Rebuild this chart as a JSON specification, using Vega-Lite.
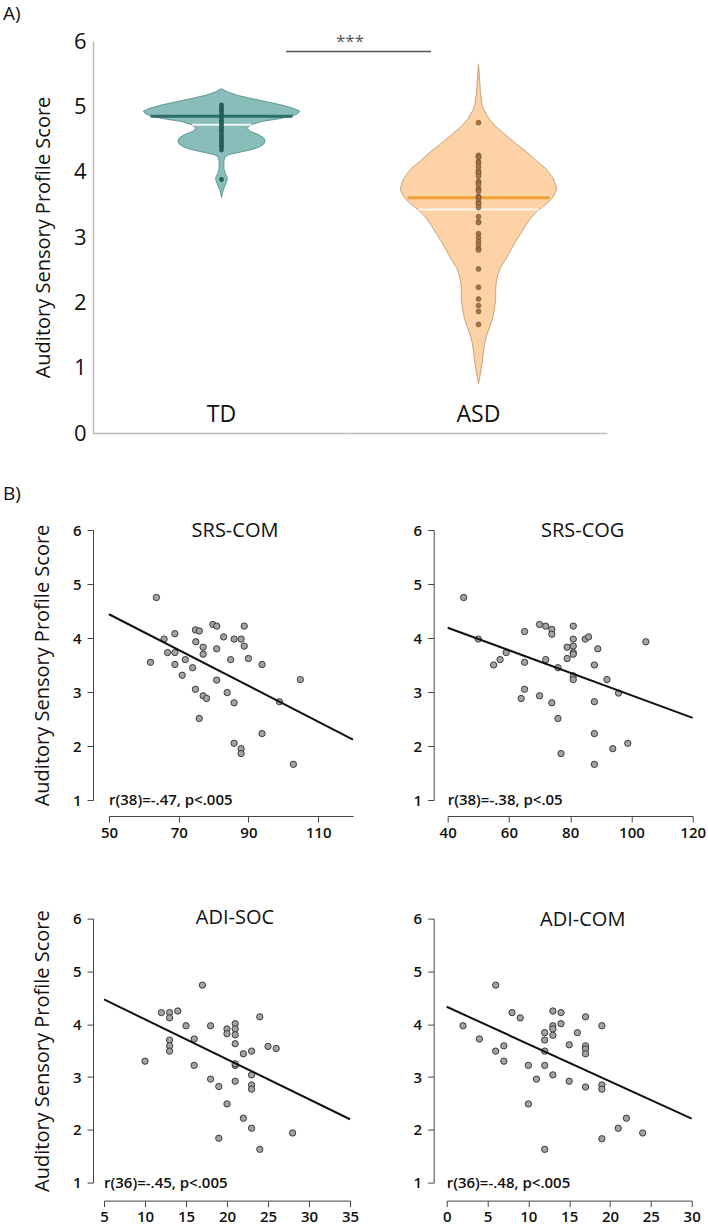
{
  "$schema": "https://vega.github.io/schema/vega-lite/v6.json",
  "background": "white",
  "padding": {"left": 3, "top": 5, "right": 0, "bottom": 0},
  "config": {
    "font": "Open Sans",
    "view": {"stroke": null},
    "axis": {"grid": false, "labelColor": "#111", "titleColor": "#111", "labelOverlap": false},
    "title": {"color": "#111", "fontWeight": "normal", "font": "Open Sans"}
  },
  "spacing": 41,
  "vconcat": [
    {
      "title": {"text": "A)", "anchor": "start", "frame": "group", "dx": -90, "offset": 6, "fontSize": 19},
      "bounds": "flush",
      "spacing": 0,
      "hconcat": [
        {
          "width": 257,
          "height": 392,
          "layer": [
            {
              "data": {"values": [
                {"score": 5.27, "density": 0}, {"score": 5.22, "density": 0.08}, {"score": 5.17, "density": 0.2},
                {"score": 5.12, "density": 0.38}, {"score": 5.07, "density": 0.58}, {"score": 5.02, "density": 0.77},
                {"score": 4.97, "density": 0.92}, {"score": 4.93, "density": 1.0}, {"score": 4.89, "density": 0.98},
                {"score": 4.85, "density": 0.9}, {"score": 4.81, "density": 0.74}, {"score": 4.77, "density": 0.52},
                {"score": 4.72, "density": 0.38}, {"score": 4.67, "density": 0.33}, {"score": 4.62, "density": 0.36},
                {"score": 4.57, "density": 0.47}, {"score": 4.52, "density": 0.54}, {"score": 4.47, "density": 0.56},
                {"score": 4.42, "density": 0.54}, {"score": 4.37, "density": 0.47}, {"score": 4.33, "density": 0.36},
                {"score": 4.29, "density": 0.2}, {"score": 4.26, "density": 0.09}, {"score": 4.22, "density": 0.04},
                {"score": 4.15, "density": 0.03}, {"score": 4.05, "density": 0.03}, {"score": 3.98, "density": 0.045},
                {"score": 3.92, "density": 0.07}, {"score": 3.88, "density": 0.075}, {"score": 3.83, "density": 0.06},
                {"score": 3.76, "density": 0.035}, {"score": 3.68, "density": 0.012}, {"score": 3.6, "density": 0}
              ]},
              "mark": {"type": "area", "orient": "horizontal", "fill": "#88bdb9", "stroke": "#5f9995", "strokeWidth": 1},
              "encoding": {
                "y": {"field": "score", "type": "quantitative", "scale": {"domain": [0, 6], "nice": false, "zero": false},
                  "axis": {"values": [0, 1, 2, 3, 4, 5, 6], "format": "d", "ticks": false, "tickSize": 0, "labelFontSize": 22, "labelPadding": 7,
                    "domainColor": "#bdbdbd", "domainWidth": 1.5, "title": "Auditory Sensory Profile Score",
                    "titleFontSize": 20, "titleFontWeight": "normal", "titlePadding": 20}},
                "x": {"field": "density", "type": "quantitative", "stack": "center",
                  "scale": {"domain": [-0.3237, 1.3237], "nice": false, "zero": false},
                  "axis": {"ticks": false, "labels": false, "title": null, "domainColor": "#bdbdbd", "domainWidth": 1.5}}
              }
            },
            {
              "data": {"values": [{"stat": "median", "score": 4.85, "lo": 0.045, "hi": 0.955}]},
              "mark": {"type": "rule", "color": "#2b6d69", "strokeWidth": 3},
              "encoding": {"x": {"field": "lo", "type": "quantitative"}, "x2": {"field": "hi"}, "y": {"field": "score", "type": "quantitative"}}
            },
            {
              "data": {"values": [{"stat": "mean", "score": 4.72, "lo": 0.31, "hi": 0.69}]},
              "mark": {"type": "rule", "color": "#ffffff", "strokeWidth": 2, "opacity": 0.85},
              "encoding": {"x": {"field": "lo", "type": "quantitative"}, "x2": {"field": "hi"}, "y": {"field": "score", "type": "quantitative"}}
            },
            {
              "data": {"values": [
                {"score": 5.02}, {"score": 4.98}, {"score": 4.95}, {"score": 4.92}, {"score": 4.88}, {"score": 4.85},
                {"score": 4.82}, {"score": 4.78}, {"score": 4.75}, {"score": 4.72}, {"score": 4.68}, {"score": 4.65},
                {"score": 4.62}, {"score": 4.57}, {"score": 4.53}, {"score": 4.5}, {"score": 4.47}, {"score": 4.43},
                {"score": 4.4}, {"score": 4.37}, {"score": 4.33}, {"score": 3.88}
              ]},
              "mark": {"type": "circle", "size": 24, "color": "#235f5b", "opacity": 1},
              "encoding": {"x": {"datum": 0.5}, "y": {"field": "score", "type": "quantitative"}}
            },
            {
              "data": {"values": [{"group": "TD", "pos": 0.27}]},
              "mark": {"type": "text", "fontSize": 23, "baseline": "middle", "align": "center", "color": "#111"},
              "encoding": {"x": {"datum": 0.5}, "y": {"field": "pos", "type": "quantitative"}, "text": {"field": "group"}}
            },
            {
              "data": {"values": [{"comparison": "TD vs ASD", "score": 5.84, "lo": 0.914, "hi": 1.843}]},
              "mark": {"type": "rule", "color": "#555555", "strokeWidth": 1.5},
              "encoding": {"x": {"field": "lo", "type": "quantitative"}, "x2": {"field": "hi"}, "y": {"field": "score", "type": "quantitative"}}
            },
            {
              "data": {"values": [{"sig": "***", "pos": 5.98}]},
              "mark": {"type": "text", "fontSize": 17, "baseline": "middle", "align": "center", "color": "#555555"},
              "encoding": {"x": {"datum": 1.3237}, "y": {"field": "pos", "type": "quantitative"}, "text": {"field": "sig"}}
            }
          ]
        },
        {
          "width": 257,
          "height": 392,
          "layer": [
            {
              "data": {"values": [
                {"score": 5.65, "density": 0}, {"score": 5.4, "density": 0.015}, {"score": 5.2, "density": 0.025},
                {"score": 5.0, "density": 0.05}, {"score": 4.93, "density": 0.077}, {"score": 4.8, "density": 0.14},
                {"score": 4.67, "density": 0.24}, {"score": 4.55, "density": 0.36}, {"score": 4.42, "density": 0.49},
                {"score": 4.3, "density": 0.62}, {"score": 4.17, "density": 0.74}, {"score": 4.05, "density": 0.86},
                {"score": 3.91, "density": 0.95}, {"score": 3.8, "density": 0.99}, {"score": 3.72, "density": 1.0},
                {"score": 3.62, "density": 0.96}, {"score": 3.55, "density": 0.91}, {"score": 3.45, "density": 0.81},
                {"score": 3.37, "density": 0.73}, {"score": 3.29, "density": 0.67}, {"score": 3.17, "density": 0.6},
                {"score": 3.05, "density": 0.54}, {"score": 2.92, "density": 0.47}, {"score": 2.79, "density": 0.41},
                {"score": 2.66, "density": 0.35}, {"score": 2.53, "density": 0.28}, {"score": 2.43, "density": 0.25},
                {"score": 2.33, "density": 0.23}, {"score": 2.2, "density": 0.22}, {"score": 2.05, "density": 0.22},
                {"score": 1.87, "density": 0.2}, {"score": 1.75, "density": 0.18}, {"score": 1.61, "density": 0.14},
                {"score": 1.48, "density": 0.1}, {"score": 1.36, "density": 0.077}, {"score": 1.2, "density": 0.058},
                {"score": 1.1, "density": 0.05}, {"score": 0.95, "density": 0.03}, {"score": 0.85, "density": 0.015},
                {"score": 0.75, "density": 0}
              ]},
              "mark": {"type": "area", "orient": "horizontal", "fill": "#fcd2a6", "stroke": "#c9a07a", "strokeWidth": 1},
              "encoding": {
                "y": {"field": "score", "type": "quantitative", "scale": {"domain": [0, 6], "nice": false, "zero": false}, "axis": null},
                "x": {"field": "density", "type": "quantitative", "stack": "center",
                  "scale": {"domain": [-0.3237, 1.3237], "nice": false, "zero": false},
                  "axis": {"ticks": false, "labels": false, "title": null, "domainColor": "#bdbdbd", "domainWidth": 1.5}}
              }
            },
            {
              "data": {"values": [{"stat": "median", "score": 3.6, "lo": 0.045, "hi": 0.955}]},
              "mark": {"type": "rule", "color": "#f0a035", "strokeWidth": 3},
              "encoding": {"x": {"field": "lo", "type": "quantitative"}, "x2": {"field": "hi"}, "y": {"field": "score", "type": "quantitative"}}
            },
            {
              "data": {"values": [{"stat": "mean", "score": 3.42, "lo": 0.115, "hi": 0.885}]},
              "mark": {"type": "rule", "color": "#ffffff", "strokeWidth": 2, "opacity": 0.85},
              "encoding": {"x": {"field": "lo", "type": "quantitative"}, "x2": {"field": "hi"}, "y": {"field": "score", "type": "quantitative"}}
            },
            {
              "data": {"values": [
                {"score": 4.75}, {"score": 4.25}, {"score": 4.22}, {"score": 4.22}, {"score": 4.15}, {"score": 4.13},
                {"score": 4.08}, {"score": 4.02}, {"score": 3.98}, {"score": 3.98}, {"score": 3.98}, {"score": 3.93},
                {"score": 3.85}, {"score": 3.83}, {"score": 3.8}, {"score": 3.73}, {"score": 3.73}, {"score": 3.7},
                {"score": 3.62}, {"score": 3.6}, {"score": 3.6}, {"score": 3.55}, {"score": 3.51}, {"score": 3.51},
                {"score": 3.45}, {"score": 3.31}, {"score": 3.23}, {"score": 3.22}, {"score": 3.05}, {"score": 2.99},
                {"score": 2.93}, {"score": 2.88}, {"score": 2.82}, {"score": 2.8}, {"score": 2.51}, {"score": 2.23},
                {"score": 2.05}, {"score": 1.95}, {"score": 1.86}, {"score": 1.66}
              ]},
              "mark": {"type": "circle", "size": 24, "fill": "#a8743f", "stroke": "#6b4a2a", "strokeWidth": 0.6, "opacity": 1},
              "encoding": {"x": {"datum": 0.5}, "y": {"field": "score", "type": "quantitative"}}
            },
            {
              "data": {"values": [{"group": "ASD", "pos": 0.27}]},
              "mark": {"type": "text", "fontSize": 23, "baseline": "middle", "align": "center", "color": "#111"},
              "encoding": {"x": {"datum": 0.5}, "y": {"field": "pos", "type": "quantitative"}, "text": {"field": "group"}}
            }
          ]
        }
      ]
    },
    {
      "title": {"text": "B)", "anchor": "start", "frame": "group", "dx": -90, "offset": 17, "fontSize": 19},
      "spacing": 67.6,
      "vconcat": [
        {
          "bounds": "flush",
          "spacing": 80.7,
          "hconcat": [
            {
              "width": 260, "height": 270,
              "title": {"text": "SRS-COM", "fontSize": 20, "baseline": "middle", "offset": -28, "dx": 12},
              "layer": [
                {
                  "data": {"values": [
                    {"x": 63.6, "y": 4.75}, {"x": 61.9, "y": 3.55}, {"x": 65.8, "y": 3.98}, {"x": 66.8, "y": 3.73},
                    {"x": 68.9, "y": 4.08}, {"x": 68.9, "y": 3.73}, {"x": 68.9, "y": 3.51}, {"x": 71.0, "y": 3.31},
                    {"x": 71.9, "y": 3.6}, {"x": 74.0, "y": 3.45}, {"x": 74.8, "y": 4.15}, {"x": 75.9, "y": 4.13},
                    {"x": 74.9, "y": 3.93}, {"x": 77.0, "y": 3.83}, {"x": 77.0, "y": 3.7}, {"x": 74.8, "y": 3.05},
                    {"x": 77.0, "y": 2.93}, {"x": 78.0, "y": 2.88}, {"x": 75.9, "y": 2.51}, {"x": 79.8, "y": 4.25},
                    {"x": 80.9, "y": 4.22}, {"x": 80.9, "y": 3.8}, {"x": 80.9, "y": 3.22}, {"x": 82.9, "y": 4.02},
                    {"x": 83.9, "y": 2.99}, {"x": 84.9, "y": 3.6}, {"x": 85.9, "y": 3.98}, {"x": 85.9, "y": 2.8},
                    {"x": 85.9, "y": 2.05}, {"x": 87.9, "y": 3.98}, {"x": 88.8, "y": 3.85}, {"x": 88.8, "y": 4.22},
                    {"x": 87.9, "y": 1.95}, {"x": 87.9, "y": 1.86}, {"x": 90.0, "y": 3.62}, {"x": 93.9, "y": 3.51},
                    {"x": 93.9, "y": 2.23}, {"x": 98.9, "y": 2.82}, {"x": 102.9, "y": 1.66}, {"x": 104.9, "y": 3.23}
                  ]},
                  "mark": {"type": "circle", "size": 40, "fill": "#a3a3a3", "stroke": "#3a3a3a", "strokeWidth": 1, "opacity": 1},
                  "encoding": {
                    "x": {"field": "x", "type": "quantitative", "scale": {"domain": [50, 120], "range": [16, 260], "nice": false, "zero": false},
                      "axis": {"values": [50, 60, 70, 80, 90, 100, 110, 120], "offset": 16, "tickSize": 6, "labelPadding": 3, "labelFontSize": 15, "labelFontWeight": 600, "labelFlush": false, "title": null, "domainColor": "#444", "tickColor": "#444"}},
                    "y": {"field": "y", "type": "quantitative", "scale": {"domain": [1, 6], "nice": false, "zero": false},
                      "axis": {"values": [1, 2, 3, 4, 5, 6], "format": "d", "tickSize": 6, "labelPadding": 6, "labelFontSize": 15, "labelFontWeight": 600, "domainColor": "#444", "tickColor": "#444",
                        "title": "Auditory Sensory Profile Score", "titleFontSize": 20, "titleFontWeight": "normal", "titlePadding": 20}}
                  }
                },
                {
                  "data": {"values": [{"x": 50, "y": 4.44}, {"x": 120, "y": 2.12}]},
                  "mark": {"type": "line", "color": "#111", "strokeWidth": 2},
                  "encoding": {"x": {"field": "x", "type": "quantitative"}, "y": {"field": "y", "type": "quantitative"}}
                },
                {
                  "data": {"values": [{"label": "r(38)=-.47, p<.005", "x": 50, "y": 1}]},
                  "mark": {"type": "text", "align": "left", "baseline": "middle", "fontSize": 15, "fontWeight": 600, "color": "#111"},
                  "encoding": {"x": {"field": "x", "type": "quantitative"}, "y": {"field": "y", "type": "quantitative"}, "text": {"field": "label"}}
                }
              ]
            },
            {
              "width": 260, "height": 270,
              "title": {"text": "SRS-COG", "fontSize": 20, "baseline": "middle", "offset": -28, "dx": 19},
              "layer": [
                {
                  "data": {"values": [
                    {"x": 45.2, "y": 4.75}, {"x": 50.0, "y": 3.98}, {"x": 55.0, "y": 3.5}, {"x": 57.1, "y": 3.6},
                    {"x": 59.1, "y": 3.73}, {"x": 65.1, "y": 4.12}, {"x": 65.1, "y": 3.55}, {"x": 65.1, "y": 3.05},
                    {"x": 64.0, "y": 2.88}, {"x": 70.0, "y": 4.25}, {"x": 72.0, "y": 4.22}, {"x": 74.0, "y": 4.16},
                    {"x": 74.0, "y": 4.07}, {"x": 72.0, "y": 3.6}, {"x": 70.0, "y": 2.93}, {"x": 74.0, "y": 2.8},
                    {"x": 76.0, "y": 3.45}, {"x": 76.0, "y": 2.51}, {"x": 77.0, "y": 1.86}, {"x": 79.0, "y": 3.83},
                    {"x": 79.0, "y": 3.62}, {"x": 81.0, "y": 4.22}, {"x": 81.0, "y": 3.98}, {"x": 81.0, "y": 3.85},
                    {"x": 81.0, "y": 3.73}, {"x": 81.0, "y": 3.7}, {"x": 81.0, "y": 3.3}, {"x": 81.0, "y": 3.23},
                    {"x": 84.9, "y": 3.98}, {"x": 86.0, "y": 4.02}, {"x": 89.0, "y": 3.8}, {"x": 87.9, "y": 3.5},
                    {"x": 87.9, "y": 2.82}, {"x": 87.9, "y": 2.23}, {"x": 87.9, "y": 1.66}, {"x": 92.0, "y": 3.23},
                    {"x": 95.8, "y": 2.98}, {"x": 93.9, "y": 1.95}, {"x": 98.8, "y": 2.05}, {"x": 104.7, "y": 3.93}
                  ]},
                  "mark": {"type": "circle", "size": 40, "fill": "#a3a3a3", "stroke": "#3a3a3a", "strokeWidth": 1, "opacity": 1},
                  "encoding": {
                    "x": {"field": "x", "type": "quantitative", "scale": {"domain": [40, 120], "range": [14, 259], "nice": false, "zero": false},
                      "axis": {"values": [40, 60, 80, 100, 120], "offset": 16, "tickSize": 6, "labelPadding": 3, "labelFontSize": 15, "labelFontWeight": 600, "labelFlush": false, "title": null, "domainColor": "#444", "tickColor": "#444"}},
                    "y": {"field": "y", "type": "quantitative", "scale": {"domain": [1, 6], "nice": false, "zero": false},
                      "axis": {"values": [1, 2, 3, 4, 5, 6], "format": "d", "tickSize": 6, "labelPadding": 6, "labelFontSize": 15, "labelFontWeight": 600, "domainColor": "#444", "tickColor": "#444", "title": null}}
                  }
                },
                {
                  "data": {"values": [{"x": 40, "y": 4.19}, {"x": 120, "y": 2.52}]},
                  "mark": {"type": "line", "color": "#111", "strokeWidth": 2},
                  "encoding": {"x": {"field": "x", "type": "quantitative"}, "y": {"field": "y", "type": "quantitative"}}
                },
                {
                  "data": {"values": [{"label": "r(38)=-.38, p<.05", "x": 40, "y": 1}]},
                  "mark": {"type": "text", "align": "left", "baseline": "middle", "fontSize": 15, "fontWeight": 600, "color": "#111"},
                  "encoding": {"x": {"field": "x", "type": "quantitative"}, "y": {"field": "y", "type": "quantitative"}, "text": {"field": "label"}}
                }
              ]
            }
          ]
        },
        {
          "bounds": "flush",
          "spacing": 80.7,
          "hconcat": [
            {
              "width": 260, "height": 264,
              "title": {"text": "ADI-SOC", "fontSize": 20, "baseline": "middle", "offset": -28, "dx": 12},
              "layer": [
                {
                  "data": {"values": [
                    {"x": 10, "y": 3.3}, {"x": 12, "y": 4.22}, {"x": 13, "y": 4.22}, {"x": 13, "y": 4.12},
                    {"x": 14, "y": 4.25}, {"x": 13, "y": 3.7}, {"x": 13, "y": 3.59}, {"x": 13, "y": 3.49},
                    {"x": 15, "y": 3.97}, {"x": 16, "y": 3.72}, {"x": 16, "y": 3.22}, {"x": 17, "y": 4.74},
                    {"x": 18, "y": 3.97}, {"x": 18, "y": 2.96}, {"x": 19, "y": 2.82}, {"x": 19, "y": 1.84},
                    {"x": 20, "y": 3.91}, {"x": 20, "y": 3.82}, {"x": 20, "y": 2.49}, {"x": 21, "y": 4.01},
                    {"x": 21, "y": 3.91}, {"x": 21, "y": 3.8}, {"x": 21, "y": 3.63}, {"x": 21, "y": 3.22},
                    {"x": 21, "y": 3.25}, {"x": 21, "y": 2.92}, {"x": 22, "y": 3.44}, {"x": 22, "y": 2.22},
                    {"x": 23, "y": 3.49}, {"x": 23, "y": 3.04}, {"x": 23, "y": 2.85}, {"x": 23, "y": 2.77},
                    {"x": 23, "y": 2.03}, {"x": 24, "y": 4.14}, {"x": 24, "y": 1.63}, {"x": 25, "y": 3.58},
                    {"x": 26, "y": 3.54}, {"x": 28, "y": 1.94}
                  ]},
                  "mark": {"type": "circle", "size": 40, "fill": "#a3a3a3", "stroke": "#3a3a3a", "strokeWidth": 1, "opacity": 1},
                  "encoding": {
                    "x": {"field": "x", "type": "quantitative", "scale": {"domain": [5, 35], "range": [11, 257], "nice": false, "zero": false},
                      "axis": {"values": [5, 10, 15, 20, 25, 30, 35], "offset": 18, "tickSize": 6, "labelPadding": 3, "labelFontSize": 15, "labelFontWeight": 600, "labelFlush": false, "title": null, "domainColor": "#444", "tickColor": "#444"}},
                    "y": {"field": "y", "type": "quantitative", "scale": {"domain": [1, 6], "nice": false, "zero": false},
                      "axis": {"values": [1, 2, 3, 4, 5, 6], "format": "d", "tickSize": 6, "labelPadding": 6, "labelFontSize": 15, "labelFontWeight": 600, "domainColor": "#444", "tickColor": "#444",
                        "title": "Auditory Sensory Profile Score", "titleFontSize": 20, "titleFontWeight": "normal", "titlePadding": 20}}
                  }
                },
                {
                  "data": {"values": [{"x": 5, "y": 4.47}, {"x": 35, "y": 2.2}]},
                  "mark": {"type": "line", "color": "#111", "strokeWidth": 2},
                  "encoding": {"x": {"field": "x", "type": "quantitative"}, "y": {"field": "y", "type": "quantitative"}}
                },
                {
                  "data": {"values": [{"label": "r(36)=-.45, p<.005", "x": 5, "y": 1}]},
                  "mark": {"type": "text", "align": "left", "baseline": "middle", "fontSize": 15, "fontWeight": 600, "color": "#111"},
                  "encoding": {"x": {"field": "x", "type": "quantitative"}, "y": {"field": "y", "type": "quantitative"}, "text": {"field": "label"}}
                }
              ]
            },
            {
              "width": 260, "height": 264,
              "title": {"text": "ADI-COM", "fontSize": 20, "baseline": "middle", "offset": -28, "dx": 19},
              "layer": [
                {
                  "data": {"values": [
                    {"x": 2, "y": 3.97}, {"x": 4, "y": 3.72}, {"x": 6, "y": 4.74}, {"x": 6, "y": 3.49},
                    {"x": 7, "y": 3.59}, {"x": 7, "y": 3.3}, {"x": 8, "y": 4.22}, {"x": 9, "y": 4.12},
                    {"x": 10, "y": 3.22}, {"x": 10, "y": 2.49}, {"x": 11, "y": 2.96}, {"x": 12, "y": 3.84},
                    {"x": 12, "y": 3.7}, {"x": 12, "y": 3.49}, {"x": 12, "y": 3.22}, {"x": 12, "y": 1.63},
                    {"x": 13, "y": 4.25}, {"x": 13, "y": 3.97}, {"x": 13, "y": 3.91}, {"x": 13, "y": 3.79},
                    {"x": 13, "y": 3.04}, {"x": 14, "y": 4.22}, {"x": 14, "y": 4.01}, {"x": 15, "y": 3.61},
                    {"x": 15, "y": 2.92}, {"x": 16, "y": 3.84}, {"x": 17, "y": 4.14}, {"x": 17, "y": 3.59},
                    {"x": 17, "y": 3.53}, {"x": 17, "y": 3.44}, {"x": 17, "y": 2.81}, {"x": 19, "y": 3.97},
                    {"x": 19, "y": 2.85}, {"x": 19, "y": 2.77}, {"x": 19, "y": 1.83}, {"x": 21, "y": 2.03},
                    {"x": 22, "y": 2.22}, {"x": 24, "y": 1.94}
                  ]},
                  "mark": {"type": "circle", "size": 40, "fill": "#a3a3a3", "stroke": "#3a3a3a", "strokeWidth": 1, "opacity": 1},
                  "encoding": {
                    "x": {"field": "x", "type": "quantitative", "scale": {"domain": [0, 30], "range": [13, 258], "nice": false, "zero": false},
                      "axis": {"values": [0, 5, 10, 15, 20, 25, 30], "offset": 18, "tickSize": 6, "labelPadding": 3, "labelFontSize": 15, "labelFontWeight": 600, "labelFlush": false, "title": null, "domainColor": "#444", "tickColor": "#444"}},
                    "y": {"field": "y", "type": "quantitative", "scale": {"domain": [1, 6], "nice": false, "zero": false},
                      "axis": {"values": [1, 2, 3, 4, 5, 6], "format": "d", "tickSize": 6, "labelPadding": 6, "labelFontSize": 15, "labelFontWeight": 600, "domainColor": "#444", "tickColor": "#444", "title": null}}
                  }
                },
                {
                  "data": {"values": [{"x": 0, "y": 4.33}, {"x": 30, "y": 2.21}]},
                  "mark": {"type": "line", "color": "#111", "strokeWidth": 2},
                  "encoding": {"x": {"field": "x", "type": "quantitative"}, "y": {"field": "y", "type": "quantitative"}}
                },
                {
                  "data": {"values": [{"label": "r(36)=-.48, p<.005", "x": 0, "y": 1}]},
                  "mark": {"type": "text", "align": "left", "baseline": "middle", "fontSize": 15, "fontWeight": 600, "color": "#111"},
                  "encoding": {"x": {"field": "x", "type": "quantitative"}, "y": {"field": "y", "type": "quantitative"}, "text": {"field": "label"}}
                }
              ]
            }
          ]
        }
      ]
    }
  ]
}
